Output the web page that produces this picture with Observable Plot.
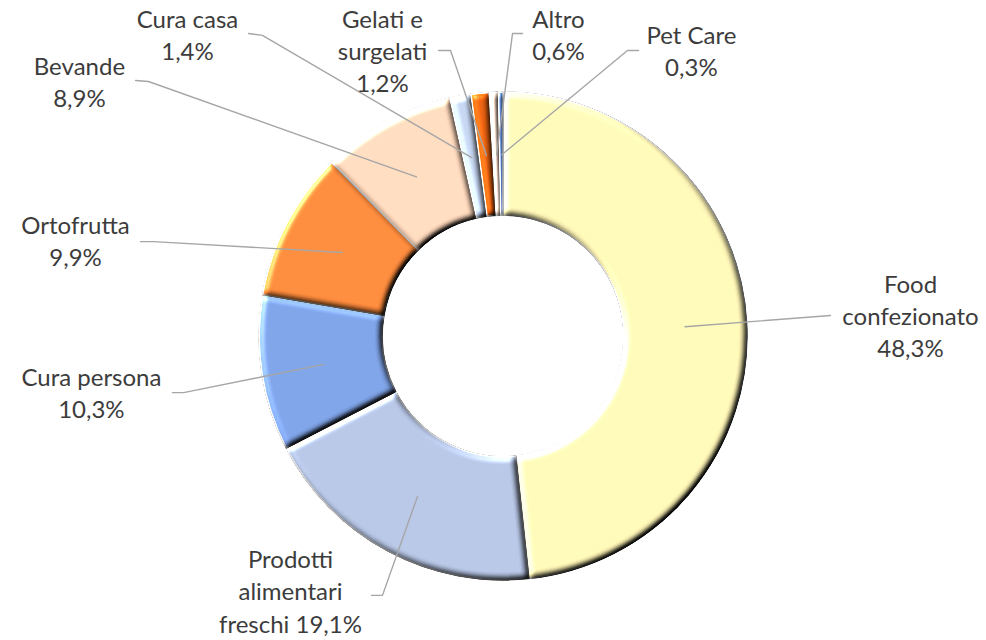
<!DOCTYPE html>
<html>
<head>
<meta charset="utf-8">
<script src="https://cdn.jsdelivr.net/npm/d3@7"></script>
<script src="https://cdn.jsdelivr.net/npm/@observablehq/plot@0.6"></script>
<style>
  html, body { margin: 0; padding: 0; background: #fff; }
  #chart { width: 986px; height: 640px; }
</style>
</head>
<body>
<div id="chart"></div>
<script>
// ---- data ----
const categories = [
  "Food confezionato", "Prodotti alimentari freschi", "Cura persona", "Ortofrutta",
  "Bevande", "Cura casa", "Gelati e surgelati", "Altro", "Pet Care"
];
const shares = [48.3, 19.1, 10.3, 9.9, 8.9, 1.4, 1.2, 0.6, 0.3];
const labelTexts = [
  "Food\nconfezionato", "Prodotti\nalimentari\nfreschi", "Cura persona", "Ortofrutta",
  "Bevande", "Cura casa", "Gelati e\nsurgelati", "Altro", "Pet Care"
];
const labelSeparators = ["\n", " ", "\n", "\n", "\n", "\n", "\n", "\n", "\n"];

// ---- styles / layout (not data) ----
const colors = ["#FFF6B6", "#B5C4E3", "#7DA1E5", "#FD8A3B", "#FFD9BC", "#C3D3EE", "#E8600E", "#F4DACB", "#4C70B2"];
const HOLE = 0.495;      // inner radius / outer radius
const MID = 0.745;       // radius of leader line end
// label block centres and leader line start / elbow, in units of the outer radius
const labelLayout = [
  {tx: 1.668, ty: 0.078, sx: 1.340, sy: 0.086, ex: 1.340, ey: 0.086},
  {tx: -0.873, ty: -1.052, sx: -0.541, sy: -1.061, ex: -0.496, ey: -1.061},
  {tx: -1.689, ty: -0.238, sx: -1.357, sy: -0.230, ex: -1.311, ey: -0.230},
  {tx: -1.754, ty: 0.385, sx: -1.488, sy: 0.389, ex: -1.434, ey: 0.389},
  {tx: -1.738, ty: 1.037, sx: -1.508, sy: 1.049, ex: -1.455, ey: 1.045},
  {tx: -1.295, ty: 1.230, sx: -1.045, sy: 1.242, ex: -0.988, ey: 1.234},
  {tx: -0.496, ty: 1.164, sx: -0.266, sy: 1.172, ex: -0.217, ey: 1.172},
  {tx: 0.225, ty: 1.230, sx: 0.078, sy: 1.242, ex: 0.037, ey: 1.242},
  {tx: 0.770, ty: 1.164, sx: 0.553, sy: 1.172, ex: 0.508, ey: 1.172}
];

const W = 986, H = 640, R = 244, CX = 503, CY = 336;

// ---- derived ----
const pie = d3.pie().sort(null).value(d => d)(shares);
const fmt = v => d3.format(".1f")(v).replace(".", ",") + "%";

const labels = categories.map((c, i) => ({
  name: c,
  text: labelTexts[i] + labelSeparators[i] + fmt(shares[i]),
  x: labelLayout[i].tx,
  y: labelLayout[i].ty
}));

const leaders = [];
categories.forEach((c, i) => {
  const a = (pie[i].startAngle + pie[i].endAngle) / 2;
  const L = labelLayout[i];
  leaders.push({name: c, x: L.sx, y: L.sy});
  leaders.push({name: c, x: L.ex, y: L.ey});
  leaders.push({name: c, x: Math.sin(a) * MID, y: Math.cos(a) * MID});
});

function donut(index, scales) {
  const X = scales.x, Y = scales.y;
  const cx = X(0), cy = Y(0), r = X(1) - X(0);
  const arc = d3.arc().innerRadius(r * HOLE).outerRadius(r);
  const g = d3.create("svg:g");
  const EL = 40;
  const f = g.append("defs").append("filter")
    .attr("id", "bevel").attr("x", "-10%").attr("y", "-10%")
    .attr("width", "120%").attr("height", "120%")
    .attr("color-interpolation-filters", "sRGB");
  f.append("feGaussianBlur").attr("in", "SourceAlpha").attr("stdDeviation", 3).attr("result", "blur");
  const dl = f.append("feDiffuseLighting").attr("in", "blur").attr("surfaceScale", 3.5)
    .attr("diffuseConstant", 1).attr("lighting-color", "#fff").attr("result", "diff");
  dl.append("feDistantLight").attr("azimuth", 225).attr("elevation", EL);
  f.append("feComposite").attr("in", "SourceGraphic").attr("in2", "diff")
    .attr("operator", "arithmetic").attr("k1", 1 / Math.sin(EL * Math.PI / 180))
    .attr("k2", 0).attr("k3", 0).attr("k4", 0).attr("result", "shaded");
  const sl = f.append("feSpecularLighting").attr("in", "blur").attr("surfaceScale", 3.5)
    .attr("specularConstant", 0.35).attr("specularExponent", 30)
    .attr("lighting-color", "#fff").attr("result", "spec");
  sl.append("feDistantLight").attr("azimuth", 225).attr("elevation", EL);
  f.append("feComposite").attr("in", "spec").attr("in2", "SourceAlpha").attr("operator", "in").attr("result", "specIn");
  f.append("feComposite").attr("in", "shaded").attr("in2", "specIn").attr("operator", "arithmetic")
    .attr("k1", 0).attr("k2", 1).attr("k3", 1).attr("k4", 0).attr("result", "lit");
  f.append("feComposite").attr("in", "lit").attr("in2", "SourceAlpha").attr("operator", "in");

  g.append("g").attr("transform", `translate(${cx},${cy})`)
    .selectAll("path").data(pie).join("path")
    .attr("d", arc)
    .attr("fill", (d, i) => colors[i])
    .attr("stroke", "#eeeeee")
    .attr("stroke-width", 1.5)
    .attr("stroke-linejoin", "round")
    .attr("filter", "url(#bevel)");
  return g.node();
}

const chart = Plot.plot({
  width: W,
  height: H,
  margin: 0,
  x: {domain: [-CX / R, (W - CX) / R], axis: null},
  y: {domain: [-(H - CY) / R, CY / R], axis: null},
  style: {background: "#fff"},
  marks: [
    donut,
    Plot.line(leaders, {x: "x", y: "y", z: "name", stroke: "#a6a6a6", strokeWidth: 1.4}),
    Plot.text(labels, {
      x: "x", y: "y", text: "text", dy: -3,
      fontFamily: "Lato", fontSize: 24, lineHeight: 1.34,
      fill: "#3c3c3c", textAnchor: "middle"
    })
  ]
});
document.getElementById("chart").appendChild(chart);
</script>
</body>
</html>
